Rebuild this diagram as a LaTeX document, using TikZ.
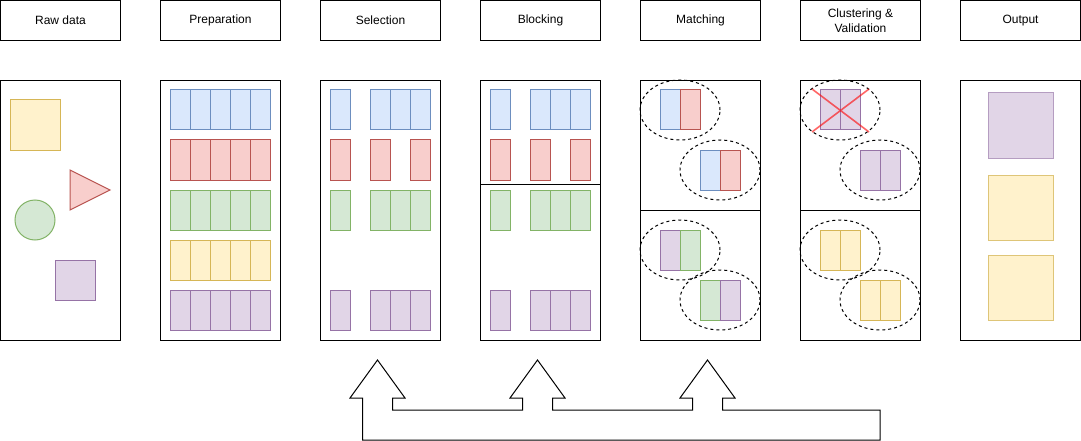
\documentclass[tikz,border=0pt]{standalone}
\usepackage{fontspec}
\setmainfont{Liberation Sans}
\usetikzlibrary{shapes.geometric}
\definecolor{bF}{HTML}{DAE8FC}\definecolor{bD}{HTML}{6C8EBF}
\definecolor{rF}{HTML}{F8CECC}\definecolor{rD}{HTML}{B85450}
\definecolor{gF}{HTML}{D5E8D4}\definecolor{gD}{HTML}{82B366}
\definecolor{yF}{HTML}{FFF2CC}\definecolor{yD}{HTML}{D6B656}
\definecolor{pF}{HTML}{E1D5E7}\definecolor{pD}{HTML}{9673A6}
\begin{document}
\begin{tikzpicture}[x=1pt,y=-1pt,
  header/.style={draw=black, line width=1pt, minimum width=120pt, minimum height=40pt, inner sep=0pt, anchor=north west, align=center, font=\fontsize{12pt}{15pt}\selectfont},
  panel/.style={draw=black, line width=1pt, minimum width=120pt, minimum height=260pt, inner sep=0pt, anchor=north west},
  cellbox/.style={line width=1pt, minimum width=20pt, minimum height=40pt, inner sep=0pt, outer sep=0pt, anchor=north west},
  group/.style={ellipse, draw=black, dashed, line width=1pt, minimum width=80pt, minimum height=60pt, inner sep=0pt},
  divider/.style={draw=black, line width=1pt},
  flow/.style={draw=black, line width=1pt, line join=miter}
]
\useasboundingbox (0,0) rectangle (1081,441);

% headers
\node[header] (h1) at (0,0) {Raw data};
\node[header] (h2) at (160,0) {Preparation};
\node[header] (h3) at (320,0) {Selection};
\node[header] (h4) at (480,0) {Blocking};
\node[header] (h5) at (640,0) {Matching};
\node[header] (h6) at (800,0) {Clustering \&\\Validation};
\node[header] (h7) at (960,0) {Output};

% panels
\foreach \i/\x in {1/0,2/160,3/320,4/480,5/640,6/800,7/960}
  \node[panel] (p\i) at (\x,80) {};

% raw data
\node[cellbox, minimum width=50pt, minimum height=50pt, fill=yF, draw=yD] (rawsq) at (10,100) {};
\draw[line width=1pt, fill=rF, draw=rD] (70,170) -- (110,190) -- (70,210) -- cycle;
\node[circle, line width=1pt, minimum size=40pt, inner sep=0pt, fill=gF, draw=gD] (rawci) at (35,220) {};
\node[cellbox, minimum width=40pt, minimum height=40pt, fill=pF, draw=pD] (rawpu) at (55,260) {};

% preparation
\foreach \f/\d/\y/\n in {bF/bD/90/b, rF/rD/140/r, gF/gD/190/g, yF/yD/240/y, pF/pD/290/p}
  \foreach \k in {0,...,4}
    \node[cellbox, fill=\f, draw=\d] (prep\n\k) at ({170+20*\k},\y) {};

% selection and blocking
\foreach \off/\nm in {0/sel,160/blk}{
  \foreach \f/\d/\y/\n/\xs in {bF/bD/90/b/{330,370,390,410}, rF/rD/140/r/{330,370,410}, gF/gD/190/g/{330,370,390,410}, pF/pD/290/p/{330,370,390,410}}
    \foreach \x in \xs
      \node[cellbox, fill=\f, draw=\d] (\nm\n\x) at ({\x+\off},\y) {};
}
\draw[divider] (p4.west |- 0,184) -- (p4.east |- 0,184);

% matching
\draw[divider] (p5.west |- 0,210) -- (p5.east |- 0,210);
\node[group] (m1) at (680,110) {};
\node[cellbox, fill=bF, draw=bD] (m1a) at (660,90) {};
\node[cellbox, fill=rF, draw=rD] (m1b) at (680,90) {};
\node[group] (m2) at (720,170) {};
\node[cellbox, fill=bF, draw=bD] (m2a) at (700,150) {};
\node[cellbox, fill=rF, draw=rD] (m2b) at (720,150) {};
\node[group] (m3) at (680,250) {};
\node[cellbox, fill=pF, draw=pD] (m3a) at (660,230) {};
\node[cellbox, fill=gF, draw=gD] (m3b) at (680,230) {};
\node[group] (m4) at (720,300) {};
\node[cellbox, fill=gF, draw=gD] (m4a) at (700,280) {};
\node[cellbox, fill=pF, draw=pD] (m4b) at (720,280) {};

% clustering & validation
\draw[divider] (p6.west |- 0,210) -- (p6.east |- 0,210);
\node[group] (c1) at (840,110) {};
\node[cellbox, fill=pF, draw=pD] (c1a) at (820,90) {};
\node[cellbox, fill=pF, draw=pD] (c1b) at (840,90) {};
\draw[red, opacity=0.6, line width=1.6pt] (812,89) -- (869,132) (812,132) -- (869,89);
\node[group] (c2) at (880,170) {};
\node[cellbox, fill=pF, draw=pD] (c2a) at (860,150) {};
\node[cellbox, fill=pF, draw=pD] (c2b) at (880,150) {};
\node[group] (c3) at (840,250) {};
\node[cellbox, fill=yF, draw=yD] (c3a) at (820,230) {};
\node[cellbox, fill=yF, draw=yD] (c3b) at (840,230) {};
\node[group] (c4) at (880,300) {};
\node[cellbox, fill=yF, draw=yD] (c4a) at (860,280) {};
\node[cellbox, fill=yF, draw=yD] (c4b) at (880,280) {};

% output
\node[cellbox, minimum width=65pt, minimum height=65pt, fill=pF, draw=pD!70] (o1) at (988,93) {};
\node[cellbox, minimum width=65pt, minimum height=65pt, fill=yF, draw=yD!80] (o2) at (988,175) {};
\node[cellbox, minimum width=65pt, minimum height=65pt, fill=yF, draw=yD!80] (o3) at (988,255) {};

% feedback flow arrow
\draw[flow] (362.5,440) -- (362.5,398) -- (350,398) -- (377.5,360) -- (405,398) -- (392.5,398) -- (392.5,410)
  -- (522.5,410) -- (522.5,398) -- (510,398) -- (537.5,360) -- (565,398) -- (552.5,398) -- (552.5,410)
  -- (692.5,410) -- (692.5,398) -- (680,398) -- (707.5,360) -- (735,398) -- (722.5,398) -- (722.5,410)
  -- (880,410) -- (880,440) -- cycle;
\end{tikzpicture}
\end{document}
